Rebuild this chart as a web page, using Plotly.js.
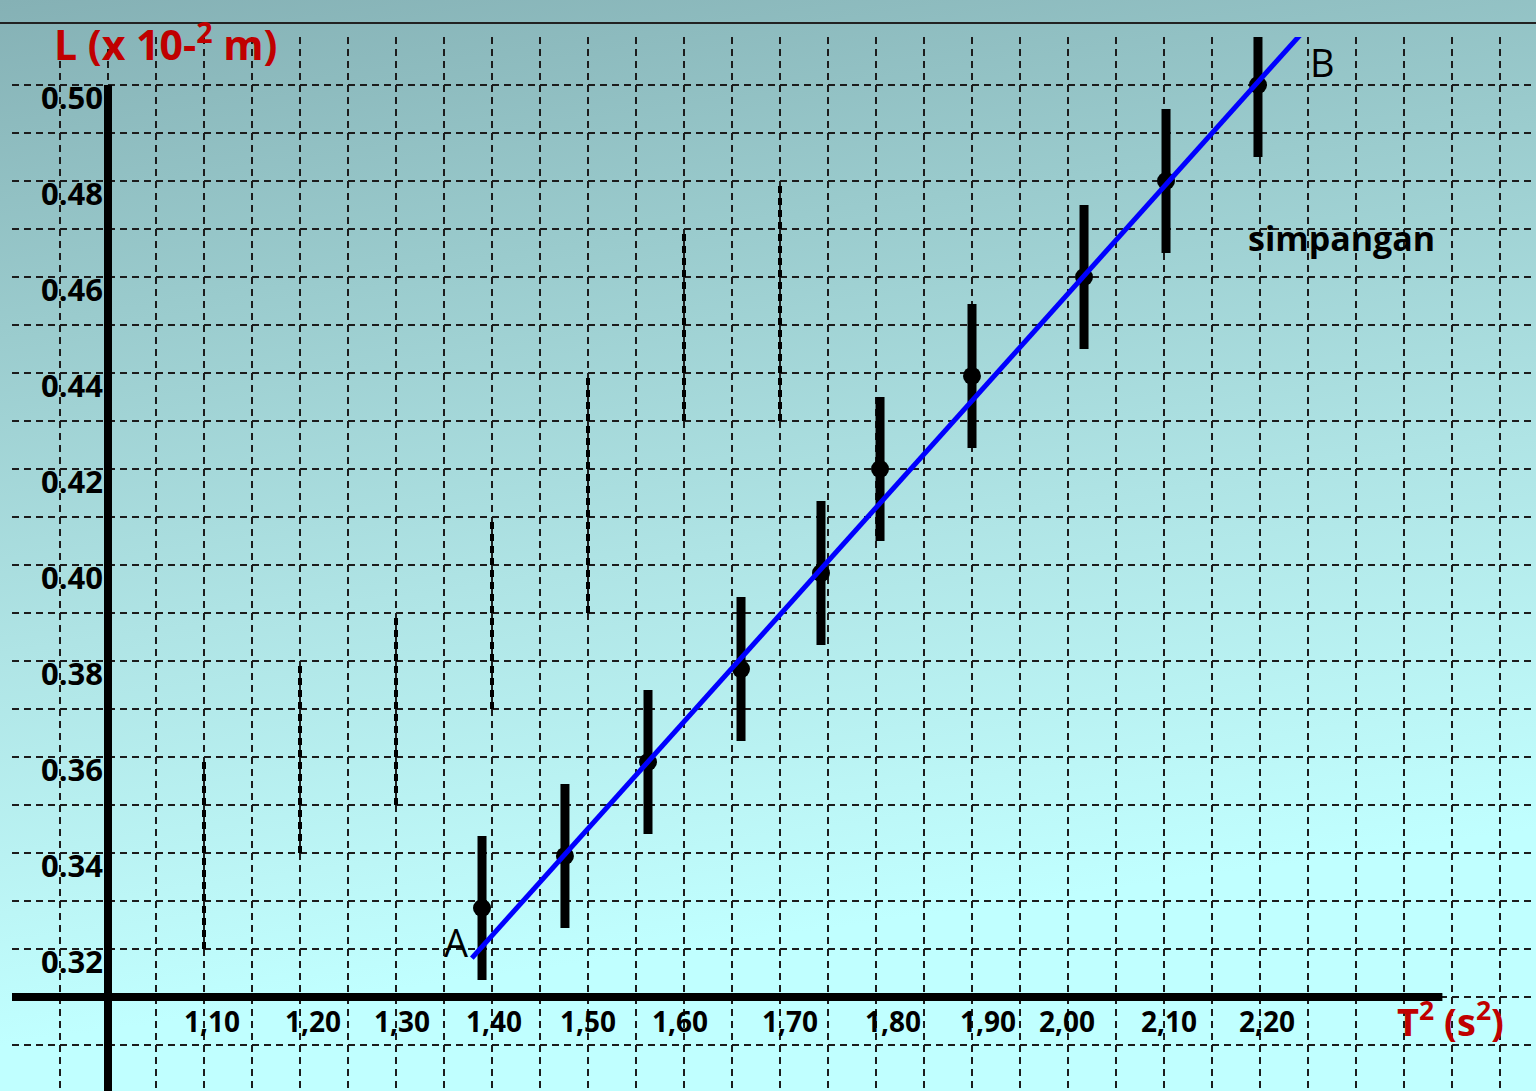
<!DOCTYPE html>
<html>
<head>
<meta charset="utf-8">
<script src="https://cdn.plot.ly/plotly-3.0.1.min.js"></script>
<style>
  html, body { margin: 0; padding: 0; }
  body {
    width: 1536px; height: 1091px; overflow: hidden;
    background: linear-gradient(172deg, #85b1b5 0%, #9acbcd 25%, #afe4e5 50%, #bcf6f6 70%, #c0ffff 80%, #c0ffff 100%);
  }
  #chart { width: 1536px; height: 1091px; }
</style>
</head>
<body>
<div id="chart"></div>
<script>
// ---- data ----
const T2 = [1.3896, 1.4760, 1.5625, 1.6594, 1.7427, 1.8042, 1.9000, 2.0167, 2.1021, 2.1979];
const L  = [0.32854, 0.33938, 0.35896, 0.37833, 0.39833, 0.42000, 0.43938, 0.46000, 0.48000, 0.50000];
const Lerr = [0.015, 0.015, 0.015, 0.015, 0.015, 0.015, 0.015, 0.015, 0.015, 0.015];

// best-fit line A -> B
const fitT = [1.379, 2.2417];
const fitL = [0.3181, 0.5104];

// darker dashed drop segments
const segT      = [1.1, 1.2, 1.3, 1.4, 1.5, 1.6, 1.7];
const segTop    = [0.36, 0.38, 0.39, 0.41, 0.44, 0.47, 0.48];
const segBottom = [0.32, 0.34, 0.35, 0.37, 0.39, 0.43, 0.43];

// tick labels
const xLabels   = ["1,10", "1,20", "1,30", "1,40", "1,50", "1,60", "1,70", "1,80", "1,90", "2,00", "2,10", "2,20"];
const xLabelPos = [1.1083, 1.2135, 1.3063, 1.4021, 1.5, 1.5958, 1.7104, 1.8177, 1.9167, 1.9990, 2.1052, 2.2073];
const yLabels   = ["0.32", "0.34", "0.36", "0.38", "0.40", "0.42", "0.44", "0.46", "0.48", "0.50"];
const yLabelPos = [0.32, 0.34, 0.36, 0.38, 0.40, 0.42, 0.44, 0.46, 0.48, 0.50];

// ---- build traces ----
const segX = [], segY = [];
segT.forEach((t, i) => { segX.push(t, t, null); segY.push(segBottom[i], segTop[i], null); });

const FONT = "'Open Sans', Lato, sans-serif";
const XR = [0.9, 2.4875];
const YR = [0.2904167, 0.51];
const bold = s => '<b>' + s + '</b>';

const traces = [
  { x: segX, y: segY, mode: 'lines', line: { color: '#000', width: 4, dash: '7px,5px' }, hoverinfo: 'skip' },
  { x: T2, y: L, mode: 'markers', marker: { color: '#000', size: 18 },
    error_y: { type: 'data', array: Lerr, visible: true, thickness: 9, width: 0, color: '#000' } },
  { x: fitT, y: fitL, mode: 'lines', line: { color: '#0000ff', width: 5 } },
  { x: [xLabelPos[0]], y: [yLabelPos[0]], xaxis: 'x2', yaxis: 'y2', mode: 'markers',
    marker: { opacity: 0 }, hoverinfo: 'skip' }
];

const gridStyle = { showgrid: true, gridcolor: '#1c1c1c', gridwidth: 2, griddash: '7px,5px',
  zeroline: false, showline: false, ticks: '', showticklabels: false };

const layout = {
  width: 1536, height: 1091,
  margin: { l: 12, r: 0, t: 37, b: 0, pad: 0 },
  paper_bgcolor: 'rgba(0,0,0,0)', plot_bgcolor: 'rgba(0,0,0,0)',
  showlegend: false,
  xaxis: Object.assign({ range: XR, tickmode: 'linear', tick0: 1.0, dtick: 0.05 }, gridStyle),
  yaxis: Object.assign({ range: YR, tickmode: 'linear', tick0: 0.32, dtick: 0.01 }, gridStyle),
  xaxis2: { overlaying: 'x', range: XR, anchor: 'free', position: 94 / 1054,
    tickmode: 'array', tickvals: xLabelPos, ticktext: xLabels.map(bold), showgrid: false, zeroline: false,
    showline: false, ticks: '', ticklabelstandoff: 6,
    tickfont: { family: FONT, size: 28, color: '#000' } },
  yaxis2: { overlaying: 'y', range: YR, anchor: 'free', position: 96 / 1524, side: 'left',
    tickmode: 'array', tickvals: yLabelPos, ticktext: yLabels.map(bold), showgrid: false, zeroline: false,
    showline: false, ticks: '', ticklabelshift: 13, ticklabelstandoff: 5,
    tickfont: { family: FONT, size: 31, color: '#000' } },
  shapes: [
    { type: 'line', xref: 'paper', yref: 'paper', x0: -12 / 1524, x1: 1, y0: 1 + 14 / 1054, y1: 1 + 14 / 1054,
      line: { color: '#222', width: 2 } },
    { type: 'line', xref: 'x', yref: 'y', x0: 1.0, x1: 1.0, y0: YR[0], y1: 0.50,
      line: { color: '#000', width: 8 } },
    { type: 'line', xref: 'x', yref: 'y', x0: XR[0], x1: 2.39, y0: 0.31, y1: 0.31,
      line: { color: '#000', width: 8 } }
  ],
  annotations: [
    { x: 1.3625, y: 0.32146, text: 'A', showarrow: false, font: { family: FONT, size: 38, color: '#000' } },
    { x: 2.2646, y: 0.50479, text: 'B', showarrow: false, font: { family: FONT, size: 38, color: '#000' } },
    { x: 2.2854, y: 0.468125, text: bold('simpangan'), showarrow: false,
      font: { family: FONT, size: 34, color: '#000' } },
    { x: 1.0604, y: 0.50896, text: bold('L (x 10-<sup>2</sup> m)'), showarrow: false,
      font: { family: FONT, size: 41, color: '#c00000' } },
    { x: 2.398, y: 0.30521, text: bold('T<sup>2</sup> (s<sup>2</sup>)'), showarrow: false,
      font: { family: FONT, size: 38, color: '#c00000' } }
  ]
};

Plotly.newPlot('chart', traces, layout, { staticPlot: true, displayModeBar: false });
</script>
</body>
</html>
